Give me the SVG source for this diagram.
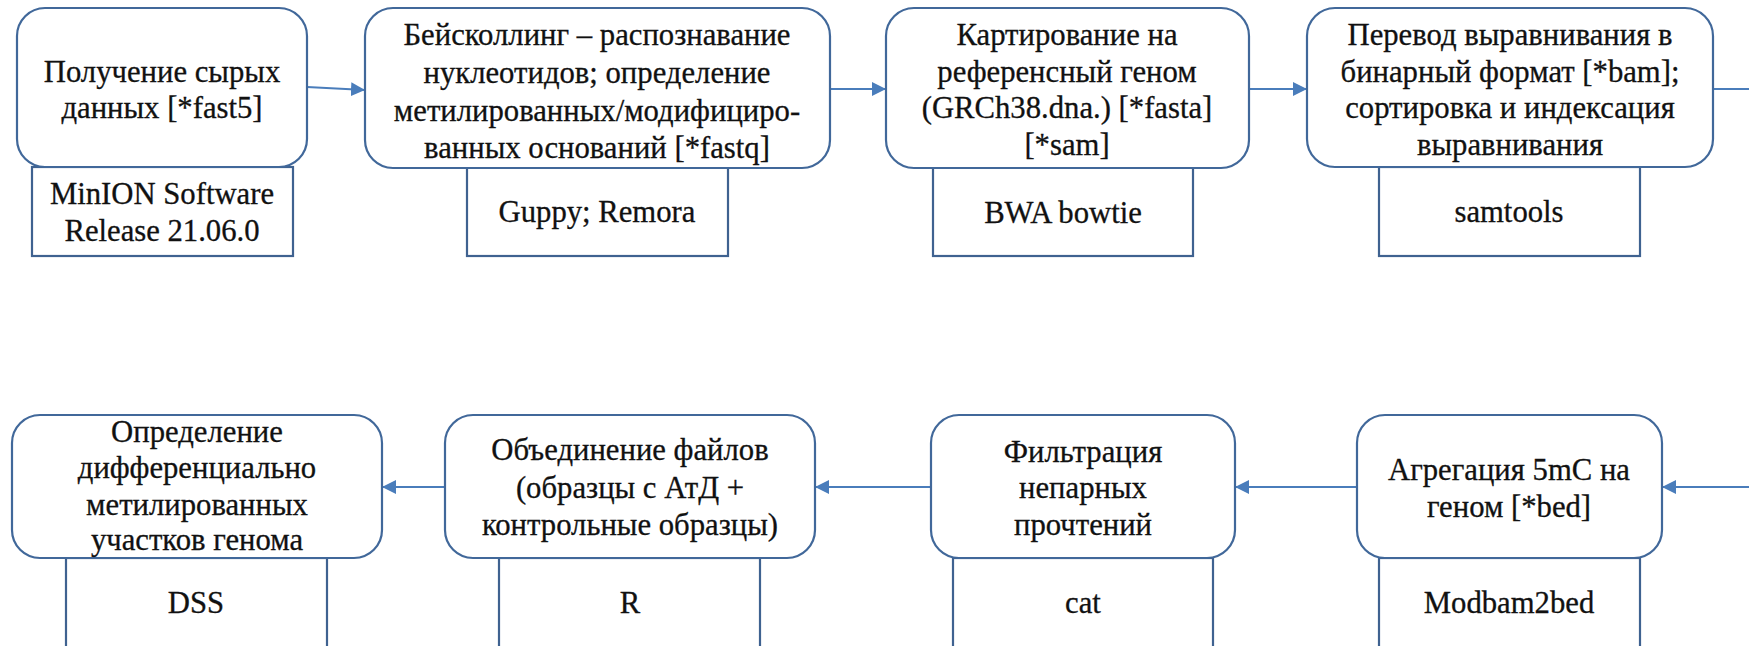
<svg xmlns="http://www.w3.org/2000/svg" width="1749" height="646" viewBox="0 0 1749 646">
<style>
.box{fill:#fff;stroke:#41689a;stroke-width:2.2}
.sub{fill:#fff;stroke:#3f6290;stroke-width:2.2}
.t{font-family:'Liberation Serif','Times New Roman',serif;font-size:30.7px;fill:#111;stroke:#111;stroke-width:0.3;text-anchor:middle}
.c{fill:none;stroke:#4a7dbb;stroke-width:2.2}
</style>
<defs>
<marker id="ah" markerUnits="userSpaceOnUse" markerWidth="14" markerHeight="14" refX="14" refY="7" orient="auto">
<path d="M0,0 L14,7 L0,14 z" fill="#4a7dbb"/>
</marker>
</defs>
<rect width="1749" height="646" fill="#fff"/>
<g id="connectors">
<path class="c" d="M307,87 L365,90" marker-end="url(#ah)"/>
<path class="c" d="M830,89 L886,89" marker-end="url(#ah)"/>
<path class="c" d="M1249,89 L1307,89" marker-end="url(#ah)"/>
<path class="c" d="M1713,89 L1750,89"/>
<path class="c" d="M1750,487 L1662,487" marker-end="url(#ah)"/>
<path class="c" d="M1357,487 L1235,487" marker-end="url(#ah)"/>
<path class="c" d="M931,487 L815,487" marker-end="url(#ah)"/>
<path class="c" d="M445,487 L382,487" marker-end="url(#ah)"/>
</g>
<g id="n1">
<rect class="sub" x="32" y="167" width="261" height="89"/>
<rect class="box" x="17" y="8" width="290" height="159" rx="28"/>
<text class="t" x="162" y="82">Получение сырых</text>
<text class="t" x="162" y="118">данных [*fast5]</text>
<text class="t" x="162" y="204">MinION Software</text>
<text class="t" x="162" y="241">Release 21.06.0</text>
</g>
<g id="n2">
<rect class="sub" x="467" y="167" width="261" height="89"/>
<rect class="box" x="365" y="8" width="465" height="160" rx="28"/>
<text class="t" x="597" y="45">Бейсколлинг – распознавание</text>
<text class="t" x="597" y="83">нуклеотидов; определение</text>
<text class="t" x="597" y="121">метилированных/модифициро-</text>
<text class="t" x="597" y="158">ванных оснований [*fastq]</text>
<text class="t" x="597" y="222">Guppy; Remora</text>
</g>
<g id="n3">
<rect class="sub" x="933" y="167" width="260" height="89"/>
<rect class="box" x="886" y="8" width="363" height="160" rx="28"/>
<text class="t" x="1067" y="45">Картирование на</text>
<text class="t" x="1067" y="82">референсный геном</text>
<text class="t" x="1067" y="118">(GRCh38.dna.) [*fasta]</text>
<text class="t" x="1067" y="155">[*sam]</text>
<text class="t" x="1063" y="223">BWA bowtie</text>
</g>
<g id="n4">
<rect class="sub" x="1379" y="167" width="261" height="89"/>
<rect class="box" x="1307" y="8" width="406" height="159" rx="28"/>
<text class="t" x="1510" y="45">Перевод выравнивания в</text>
<text class="t" x="1510" y="82">бинарный формат [*bam];</text>
<text class="t" x="1510" y="118">сортировка и индексация</text>
<text class="t" x="1510" y="155">выравнивания</text>
<text class="t" x="1509" y="222">samtools</text>
</g>
<g id="n5">
<rect class="sub" x="66" y="558" width="261" height="90"/>
<rect class="box" x="12" y="415" width="370" height="143" rx="28"/>
<text class="t" x="197" y="442">Определение</text>
<text class="t" x="197" y="478">дифференциально</text>
<text class="t" x="197" y="515">метилированных</text>
<text class="t" x="197" y="550">участков генома</text>
<text class="t" x="196" y="613">DSS</text>
</g>
<g id="n6">
<rect class="sub" x="499" y="558" width="261" height="90"/>
<rect class="box" x="445" y="415" width="370" height="143" rx="28"/>
<text class="t" x="630" y="460">Объединение файлов</text>
<text class="t" x="630" y="498">(образцы с АтД +</text>
<text class="t" x="630" y="535">контрольные образцы)</text>
<text class="t" x="630" y="613">R</text>
</g>
<g id="n7">
<rect class="sub" x="953" y="558" width="260" height="90"/>
<rect class="box" x="931" y="415" width="304" height="143" rx="28"/>
<text class="t" x="1083" y="462">Фильтрация</text>
<text class="t" x="1083" y="498">непарных</text>
<text class="t" x="1083" y="535">прочтений</text>
<text class="t" x="1083" y="613">cat</text>
</g>
<g id="n8">
<rect class="sub" x="1379" y="558" width="261" height="90"/>
<rect class="box" x="1357" y="415" width="305" height="143" rx="28"/>
<text class="t" x="1509" y="480">Агрегация 5mC на</text>
<text class="t" x="1509" y="517">геном [*bed]</text>
<text class="t" x="1509" y="613">Modbam2bed</text>
</g>
</svg>
